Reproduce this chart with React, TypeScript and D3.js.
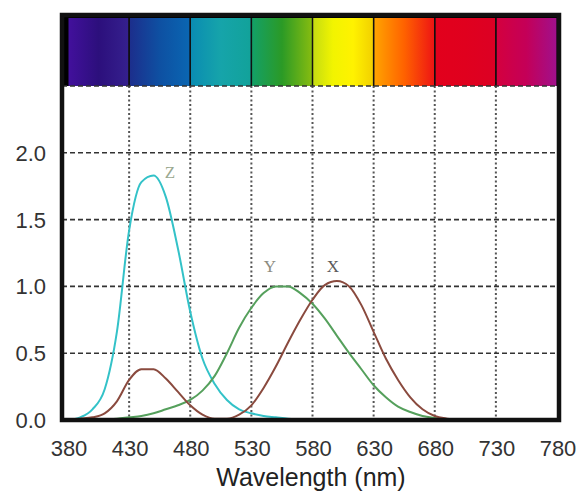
import React from 'react';
import * as d3 from 'd3';

// wavelength samples (nm) and colour matching values
const wavelengths = [380, 390, 400, 410, 420, 430, 440, 450, 460, 470, 480, 490, 500, 510, 520, 530, 540,
    550, 560, 570, 580, 590, 600, 610, 620, 630, 640, 650, 660, 670, 680, 690, 700];
const xBar = [0.0, 0.01, 0.02, 0.05, 0.14, 0.3, 0.38, 0.38, 0.31, 0.21, 0.11, 0.04, 0.01, 0.01, 0.04, 0.11, 0.24,
    0.4, 0.58, 0.75, 0.9, 1.01, 1.04, 1.0, 0.86, 0.66, 0.46, 0.3, 0.17, 0.08, 0.03, 0.01, 0.0];
const yBar = [0.0, 0.0, 0.0, 0.005, 0.01, 0.02, 0.03, 0.05, 0.08, 0.11, 0.15, 0.22, 0.33, 0.5, 0.69, 0.84, 0.95,
    1.0, 1.0, 0.95, 0.87, 0.76, 0.63, 0.5, 0.38, 0.26, 0.17, 0.1, 0.06, 0.03, 0.015, 0.005, 0.0];
const zBar = [0.0, 0.02, 0.08, 0.23, 0.66, 1.42, 1.78, 1.83, 1.67, 1.28, 0.81, 0.46, 0.27, 0.15, 0.08, 0.05, 0.03,
    0.02, 0.01, 0.005, 0.0, 0.0, 0.0, 0.0, 0.0, 0.0, 0.0, 0.0, 0.0, 0.0, 0.0, 0.0, 0.0];

const xTicks = [380, 430, 480, 530, 580, 630, 680, 730, 780];
const yTicks = [0, 0.5, 1.0, 1.5, 2.0];
const yGrid = [0.5, 1.0, 1.5, 2.0, 2.5];

// colour stops for each 50 nm strip of the spectrum band
const bandColors = [
    ['#42109c', '#2c0f7c', '#35208e'],
    ['#1c2e8c', '#0e50a2', '#0a66b2'],
    ['#0a8cb2', '#16a4aa', '#12a29a'],
    ['#13a068', '#2b9a26', '#86bc10'],
    ['#c4dc12', '#f2f400', '#fff200', '#f2d000'],
    ['#ffa400', '#ff6200', '#ee1414'],
    ['#e2001c', '#e0001e', '#dc0024'],
    ['#d4003e', '#c40058', '#a0108c'],
];

const series = [
    { name: 'Z', values: zBar, color: '#33c2c8', labelColor: '#9aa890', lx: 170, ly: 178 },
    { name: 'Y', values: yBar, color: '#55a05c', labelColor: '#8c8c80', lx: 270, ly: 272 },
    { name: 'X', values: xBar, color: '#8a4a3e', labelColor: '#5a5a5a', lx: 333, ly: 272 },
];

const W = 579;
const H = 491;

export default function App() {
    const x = d3.scaleLinear().domain([380, 780]).range([68, 557]);
    const y = d3.scaleLinear().domain([0, 2.5]).range([420, 86]);

    const frameLeft = 62;
    const frameRight = 559;
    const frameTop = 15;
    const bandTop = 18;

    const line = d3.line<number>()
        .x((_, i) => x(wavelengths[i]))
        .y(d => y(d))
        .curve(d3.curveMonotoneX);

    const font = '"Liberation Sans", Arial, Helvetica, sans-serif';

    return (
        <svg width={W} height={H} style={{ position: 'absolute', left: 0, top: 0, background: '#fff' }}>
            <defs>
                {bandColors.map((stops, i) => (
                    <linearGradient key={i} id={`band${i}`} x1="0" x2="1" y1="0" y2="0">
                        {stops.map((c, j) => (
                            <stop key={j} offset={j / (stops.length - 1)} stopColor={c} />
                        ))}
                    </linearGradient>
                ))}
            </defs>

            {/* spectrum band */}
            <rect x={frameLeft} y={frameTop} width={frameRight - frameLeft} height={y(2.5) - frameTop} fill="#000" />
            {bandColors.map((_, i) => (
                <rect key={i} x={x(xTicks[i]) + 0.5} y={bandTop}
                      width={x(xTicks[i + 1]) - x(xTicks[i]) - 1} height={y(2.5) - bandTop}
                      fill={`url(#band${i})`} />
            ))}

            {/* grid */}
            {xTicks.slice(1, -1).map(t => (
                <g key={t}>
                    <line x1={x(t)} x2={x(t)} y1={y(2.5)} y2={y(0)} stroke="#555" strokeWidth={2}
                          strokeDasharray="2,2.5" />
                    <line x1={x(t)} x2={x(t)} y1={bandTop} y2={y(2.5)} stroke="#111" strokeWidth={1.5} />
                </g>
            ))}
            {yGrid.map(t => (
                <line key={t} x1={frameLeft} x2={frameRight} y1={y(t)} y2={y(t)} stroke="#333"
                      strokeWidth={1.6} strokeDasharray="5,3" />
            ))}

            {/* curves */}
            {series.map(s => (
                <path key={s.name} d={line(s.values) || ''} fill="none" stroke={s.color} strokeWidth={2} />
            ))}
            {series.map(s => (
                <text key={s.name} x={s.lx} y={s.ly} fill={s.labelColor} fontSize={17}
                      fontFamily='"Liberation Serif", "Times New Roman", serif' textAnchor="middle">{s.name}</text>
            ))}

            {/* frame */}
            <rect x={frameLeft} y={frameTop} width={frameRight - frameLeft} height={y(0) - frameTop}
                  fill="none" stroke="#111" strokeWidth={4.5} />

            {/* axis labels */}
            {yTicks.map(t => (
                <text key={t} x={46} y={y(t) + 8} textAnchor="end" fontSize={22} fontFamily={font}
                      fill="#333">{t.toFixed(1)}</text>
            ))}
            {xTicks.map(t => (
                <text key={t} x={x(t) + 1} y={456} textAnchor="middle" fontSize={22} fontFamily={font}
                      fill="#333">{t}</text>
            ))}
            <text x={311} y={486} textAnchor="middle" fontSize={25} fontFamily={font} fill="#222">
                Wavelength (nm)
            </text>
        </svg>
    );
}
